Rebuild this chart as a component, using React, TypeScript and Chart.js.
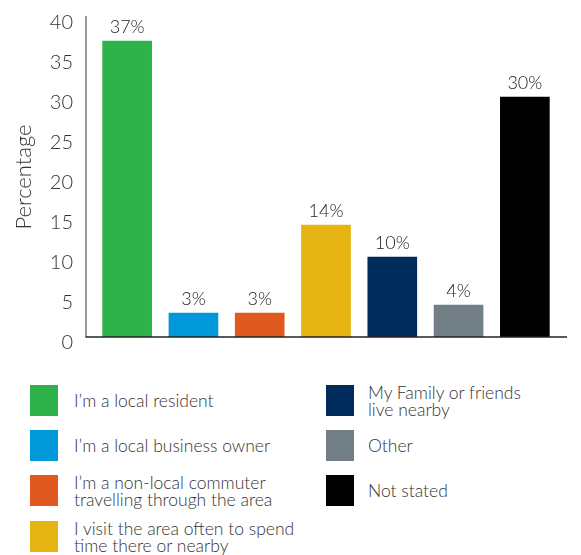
import React, { useEffect, useRef } from "react";
import { Chart, registerables } from "chart.js";

Chart.register(...registerables);

const categories = [
  "I\u2019m a local resident",
  "I\u2019m a local business owner",
  "I\u2019m a non-local commuter travelling through the area",
  "I visit the area often to spend time there or nearby",
  "My Family or friends live nearby",
  "Other",
  "Not stated",
];
const legendLines = [
  ["I\u2019m a local resident"],
  ["I\u2019m a local business owner"],
  ["I\u2019m a non-local commuter", "travelling through the area"],
  ["I visit the area often to spend", "time there or nearby"],
  ["My Family or friends", "live nearby"],
  ["Other"],
  ["Not stated"],
];
const values = [37, 3, 3, 14, 10, 4, 30];
const colors = ["#2db34a", "#0098d8", "#e05a20", "#e6b412", "#002c5c", "#737f87", "#000000"];
const yTicks = [0, 5, 10, 15, 20, 25, 30, 35, 40];

const FONT = "Lato, 'Open Sans', sans-serif";

const axisLines = {
  id: "axisLines",
  afterDraw(chart: any) {
    const { ctx, chartArea } = chart;
    const y = chart.scales.y;
    const bottom = y.getPixelForValue(0);
    const top = y.getPixelForValue(40);
    ctx.save();
    ctx.lineWidth = 1.5;
    ctx.strokeStyle = "#777";
    ctx.beginPath();
    ctx.moveTo(chartArea.left - 8, top - 1);
    ctx.lineTo(chartArea.left - 8, bottom);
    ctx.stroke();
    ctx.strokeStyle = "#222";
    ctx.beginPath();
    ctx.moveTo(chartArea.left - 8.5, bottom);
    ctx.lineTo(chartArea.right + 9, bottom);
    ctx.stroke();
    ctx.restore();
  },
};

const valueLabels = {
  id: "valueLabels",
  afterDatasetsDraw(chart: any) {
    const { ctx } = chart;
    const meta = chart.getDatasetMeta(0);
    ctx.save();
    ctx.font = `300 18px ${FONT}`;
    ctx.fillStyle = "#222";
    ctx.textAlign = "center";
    ctx.textBaseline = "bottom";
    meta.data.forEach((bar: any, i: number) => {
      ctx.fillText(values[i] + "%", bar.x, bar.y - 5);
    });
    ctx.restore();
  },
};

export default function App() {
  const ref = useRef<HTMLCanvasElement>(null);
  useEffect(() => {
    document.body.style.margin = "0";
    const chart = new Chart(ref.current!, {
      type: "bar",
      data: {
        labels: categories,
        datasets: [
          {
            data: values,
            backgroundColor: colors,
            barThickness: 49,
          },
        ],
      },
      options: {
        animation: false,
        responsive: false,
        layout: { padding: { left: 0, right: 23, top: 17, bottom: 18 } },
        plugins: { legend: { display: false }, tooltip: { enabled: false } },
        scales: {
          x: { display: false },
          y: {
            min: 0,
            max: 40,
            afterFit: (s: any) => {
              s.width = 94;
              s.paddingTop = 0;
              s.paddingBottom = 0;
            },
            afterBuildTicks: (s: any) => {
              s.ticks = yTicks.map((v) => ({ value: v }));
            },
            grid: { display: false, drawTicks: false, tickLength: 0 },
            border: { display: false },
            ticks: {
              padding: 21,
              labelOffset: 6,
              color: "#333",
              font: { family: FONT, size: 20, weight: "300" as any },
            },
            title: {
              display: true,
              text: "Percentage",
              color: "#333",
              padding: { top: 11, bottom: 0 },
              font: { family: FONT, size: 22, weight: "300" as any },
            },
          },
        },
      },
      plugins: [axisLines, valueLabels],
    });
    return () => chart.destroy();
  }, []);

  const rowTops = [385, 430, 475, 521];
  return (
    <div style={{ position: "relative", width: 581, height: 555, fontFamily: FONT }}>
      <canvas ref={ref} width={581} height={355} style={{ display: "block" }} />
      {legendLines.map((lines, i) => {
        const col = i < 4 ? 0 : 1;
        const row = i < 4 ? i : i - 4;
        const left = col === 0 ? 30 : 326;
        const textGap = col === 0 ? 16 : 14;
        return (
          <div
            key={i}
            style={{
              position: "absolute",
              left,
              top: rowTops[row],
              height: 31,
              display: "flex",
              alignItems: "center",
            }}
          >
            <div style={{ width: 28, height: 31, background: colors[i], flex: "none" }} />
            <div
              style={{
                marginLeft: textGap,
                fontSize: 17.5,
                fontWeight: 300,
                lineHeight: "17px",
                color: "#333",
                whiteSpace: "nowrap",
              }}
            >
              {lines.map((l, j) => (
                <div key={j}>{l}</div>
              ))}
            </div>
          </div>
        );
      })}
    </div>
  );
}
